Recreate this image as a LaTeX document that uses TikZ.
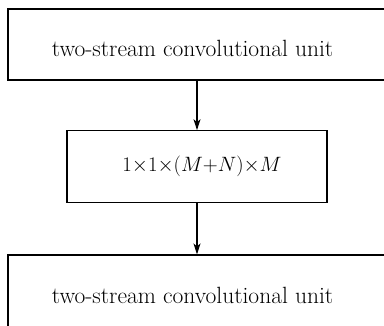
\documentclass[tikz,border=0pt]{standalone}
\usetikzlibrary{arrows.meta}
\begin{document}
\begin{tikzpicture}[x=1pt,y=-1pt,
  box/.style={draw,line width=1.1pt,inner sep=0pt},
  lbl/.style={inner sep=0pt,font=\fontsize{23.5}{26}\selectfont},
  conn/.style={line width=1.1pt,-{Stealth[length=11pt,width=7pt,inset=3pt]}}]
\useasboundingbox (0,0) rectangle (384,325);
\clip (0,0) rectangle (384,325);
\node[box,minimum width=392pt,minimum height=71pt] (top) at (204,44.5) {};
\node[box,minimum width=260pt,minimum height=72pt] (mid) at (197,166.7) {};
\node[box,minimum width=392pt,minimum height=80pt] (bot) at (204,295) {};
\node[lbl] (t1) at (192.5,48) {two-stream convolutional unit};
\node[lbl,font=\fontsize{20.5}{24}\selectfont] (t2) at (202,166) {$1{\times}1{\times}(M{+}N){\times}M$};
\node[lbl] (t3) at (192.5,295) {two-stream convolutional unit};
\draw[conn] (top.south -| mid.north) -- (mid.north);
\draw[conn] (mid.south) -- (bot.north -| mid.south);
\end{tikzpicture}
\end{document}
